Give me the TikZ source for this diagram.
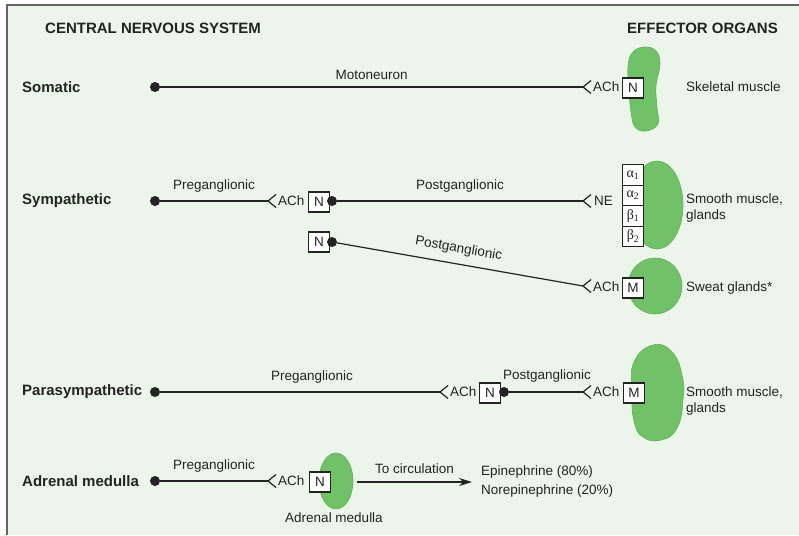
\documentclass[tikz,border=0pt]{standalone}
\usepackage{fontspec}
\setmainfont{Liberation Sans}
\newfontfamily\gkfont{Liberation Serif}
\usetikzlibrary{arrows.meta}
\definecolor{bg}{RGB}{236,245,233}
\definecolor{blob}{RGB}{112,193,104}
\definecolor{blobedge}{RGB}{96,176,90}
\definecolor{ink}{RGB}{35,35,35}
\definecolor{frame}{RGB}{100,100,100}
\newcommand\synapse[1]{\draw[nerve] (#1) ++(8,-6.5) -- (#1) -- ++(8,6.5);}
\begin{document}
\begin{tikzpicture}[x=1pt,y=-1pt,
  txt/.style={font=\fontsize{13.5}{16}\selectfont, text=ink, inner sep=0pt},
  lefttxt/.style={txt, anchor=west},
  hdr/.style={font=\bfseries\fontsize{15}{16}\selectfont, text=ink, inner sep=0pt, anchor=west},
  rowlab/.style={font=\bfseries\fontsize{15}{16}\selectfont, text=ink, inner sep=0pt, anchor=west},
  dotnode/.style={circle, fill=ink, inner sep=0pt, minimum size=10pt},
  rbox/.style={draw=ink, fill=white, line width=1.1pt, minimum width=21pt, minimum height=20pt, inner sep=0pt, font=\fontsize{13.5}{16}\selectfont, text=ink},
  gbox/.style={draw=ink, fill=white, line width=1.1pt, minimum width=21pt, minimum height=20.5pt, inner sep=0pt, font=\gkfont\fontsize{14}{14}\selectfont, text=ink},
  nerve/.style={draw=ink, line width=1.2pt},
  organ/.style={fill=blob, draw=blobedge, line width=0.6pt}]
\useasboundingbox (0,0) rectangle (799,535);
\fill[white] (0,0) rectangle (799,535);
\fill[bg] (7,5) rectangle (799,535);
\draw[frame, line width=1.6pt] (7,535) -- (7,5) -- (799,5);

% headers
\node[hdr] (hCNS) at (45,28) {CENTRAL NERVOUS SYSTEM};
\node[hdr] (hEO) at (627,28) {EFFECTOR ORGANS};

% row labels
\node[rowlab] (lSom) at (22,87) {Somatic};
\node[rowlab] (lSym) at (22,201) {Sympathetic};
\node[rowlab] (lPar) at (22,392) {Parasympathetic};
\node[rowlab] (lAdr) at (22,481) {Adrenal medulla};

% organs
\draw[organ] plot[smooth cycle, tension=0.7] coordinates {(645,47) (656,51) (660,64) (656,86) (657,108) (658,124) (646,131) (635,127) (631,112) (629,90) (628,66) (633,52)};
\draw[organ] (657,205) ellipse [x radius=26, y radius=44];
\draw[organ] (655,286) ellipse [x radius=27, y radius=28];
\draw[organ] plot[smooth cycle, tension=0.8] coordinates {(653,345) (672,352) (682,375) (683,400) (677,428) (661,440) (643,437) (634,421) (632,392) (634,362)};
\draw[organ] (336,481) ellipse [x radius=17, y radius=28];

% ---- Somatic
\node[dotnode] (dS) at (155,87) {};
\coordinate (cS) at (583,87);
\draw[nerve] (dS) -- node[txt, midway, above=7pt] (tMoto) {Motoneuron} (cS);
\synapse{cS}
\node[lefttxt] (aS) at (593,87) {ACh};
\node[rbox] (bS) at (633,88) {N};
\node[lefttxt] (oS) at (686,87) {Skeletal muscle};

% ---- Sympathetic
\node[dotnode] (dY) at (155,201) {};
\coordinate (cY1) at (268,201);
\draw[nerve] (dY) -- node[txt, midway, above=8pt] (tPreY) {Preganglionic} (cY1);
\synapse{cY1}
\node[lefttxt] (aY1) at (278,201) {ACh};
\node[rbox] (bY1) at (319,202) {N};
\node[dotnode] (dY1) at (332,201) {};
\coordinate (cY2) at (583,201);
\draw[nerve] (dY1) -- node[txt, midway, above=8pt] (tPostY) {Postganglionic} (cY2);
\synapse{cY2}
\node[lefttxt] (aY2) at (594,201) {NE};
\node[gbox] (g1) at (633,175) {α\textsubscript{1}};
\node[gbox] (g2) at (633,195.5) {α\textsubscript{2}};
\node[gbox] (g3) at (633,216) {β\textsubscript{1}};
\node[gbox] (g4) at (633,236.5) {β\textsubscript{2}};
\node[lefttxt] (oY1) at (686,199) {Smooth muscle,};
\node[lefttxt] (oY1b) at (686,216) {glands};

\node[rbox] (bY2) at (319,242) {N};
\node[dotnode] (dY2) at (332,242) {};
\coordinate (cY3) at (583,286);
\draw[nerve] (dY2) -- node[txt, midway, above=8pt, sloped, xshift=-4pt] (tPostY2) {Postganglionic} (cY3);
\synapse{cY3}
\node[lefttxt] (aY3) at (593,287) {ACh};
\node[rbox] (bY3) at (633,288) {M};
\node[lefttxt] (oY2) at (686,288) {Sweat glands*};

% ---- Parasympathetic
\node[dotnode] (dP) at (155,392) {};
\coordinate (cP1) at (440,392);
\draw[nerve] (dP) -- node[txt, midway, above=8pt, xshift=12pt] (tPreP) {Preganglionic} (cP1);
\synapse{cP1}
\node[lefttxt] (aP1) at (450,392) {ACh};
\node[rbox] (bP1) at (490,393) {N};
\node[dotnode] (dP1) at (504,392) {};
\coordinate (cP2) at (583,392);
\draw[nerve] (dP1) -- (cP2);
\node[txt] (tPostP) at (547,376) {Postganglionic};
\synapse{cP2}
\node[lefttxt] (aP2) at (593,392) {ACh};
\node[rbox] (bP2) at (634,393) {M};
\node[lefttxt] (oP) at (686,392) {Smooth muscle,};
\node[lefttxt] (oPb) at (686,409) {glands};

% ---- Adrenal medulla
\node[dotnode] (dA) at (155,481) {};
\coordinate (cA) at (268,481);
\draw[nerve] (dA) -- node[txt, midway, above=8pt] (tPreA) {Preganglionic} (cA);
\synapse{cA}
\node[lefttxt] (aA) at (278,481) {ACh};
\node[rbox] (bA) at (320,482) {N};
\node[txt] (oA) at (334,518) {Adrenal medulla};
\coordinate (arS) at (357,482);
\coordinate (arE) at (472,482);
\draw[nerve, -{Stealth[length=13pt, width=8pt]}] (arS) -- node[txt, midway, above=8pt] (tCirc) {To circulation} (arE);
\node[lefttxt] (e1) at (481,472) {Epinephrine (80\%)};
\node[lefttxt] (e2) at (481,491) {Norepinephrine (20\%)};
\end{tikzpicture}
\end{document}
